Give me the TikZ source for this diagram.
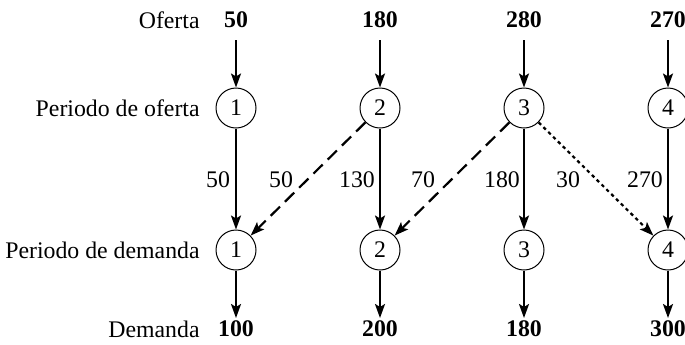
\documentclass[tikz,border=0pt]{standalone}
\usepackage{fontspec}
\setmainfont{Liberation Serif}
\usetikzlibrary{arrows.meta}
\begin{document}
\begin{tikzpicture}[x=0.5pt,y=-0.5pt,
  font=\fontsize{11.9}{14}\selectfont,
  circ/.style={circle,draw,line width=0.5pt,minimum size=20pt,inner sep=0pt},
  flow/.style={line width=1.1pt,-{Stealth[length=7pt,width=5pt,inset=1.5pt]}},
  dashflow/.style={flow,dash pattern=on 6.5pt off 3.5pt},
  dotflow/.style={flow,dash pattern=on 1.7pt off 1.7pt},
  rlab/.style={anchor=east,inner sep=0pt},
  num/.style={font=\fontsize{11.9}{14}\selectfont\bfseries,inner sep=0pt},
  elab/.style={inner sep=0pt}]
\useasboundingbox (0,0) rectangle (685,344);
% row labels
\node[rlab] (lo) at (200,20) {Oferta};
\node[rlab] (lpo) at (200,108) {Periodo de oferta};
\node[rlab] (lpd) at (200,250) {Periodo de demanda};
\node[rlab] (ld) at (200,329) {Demanda};
% supply values
\node[num] (s1) at (236,20) {50};
\node[num] (s2) at (380,20) {180};
\node[num] (s3) at (524,20) {280};
\node[num] (s4) at (668,20) {270};
% demand values
\node[num] (d1) at (236,329) {100};
\node[num] (d2) at (380,329) {200};
\node[num] (d3) at (524,329) {180};
\node[num] (d4) at (668,329) {300};
% circles
\node[circ] (o1) at (236,108) {1};
\node[circ] (o2) at (380,108) {2};
\node[circ] (o3) at (524,108) {3};
\node[circ] (o4) at (668,108) {4};
\node[circ] (p1) at (236,250) {1};
\node[circ] (p2) at (380,250) {2};
\node[circ] (p3) at (524,250) {3};
\node[circ] (p4) at (668,250) {4};
% coordinates for arrow starts/ends
\foreach \i/\x in {1/236,2/380,3/524,4/668}{
  \coordinate (t\i) at (\x,40);
  \coordinate (b\i) at (\x,318);
}
\foreach \i in {1,2,3,4}{
  \draw[flow] (t\i) -- (o\i);
  \draw[flow] (p\i) -- (b\i);
  \draw[flow] (o\i) -- (p\i);
}
\draw[dashflow] (o2) -- (p1);
\draw[dashflow] (o3) -- (p2);
\draw[dotflow] (o3) -- (p4);
% edge labels
\node[elab] (e1) at (218,180) {50};
\node[elab] (e2) at (281,180) {50};
\node[elab] (e3) at (357,180) {130};
\node[elab] (e4) at (423,180) {70};
\node[elab] (e5) at (502,180) {180};
\node[elab] (e6) at (568,180) {30};
\node[elab] (e7) at (645,180) {270};
\end{tikzpicture}
\end{document}
